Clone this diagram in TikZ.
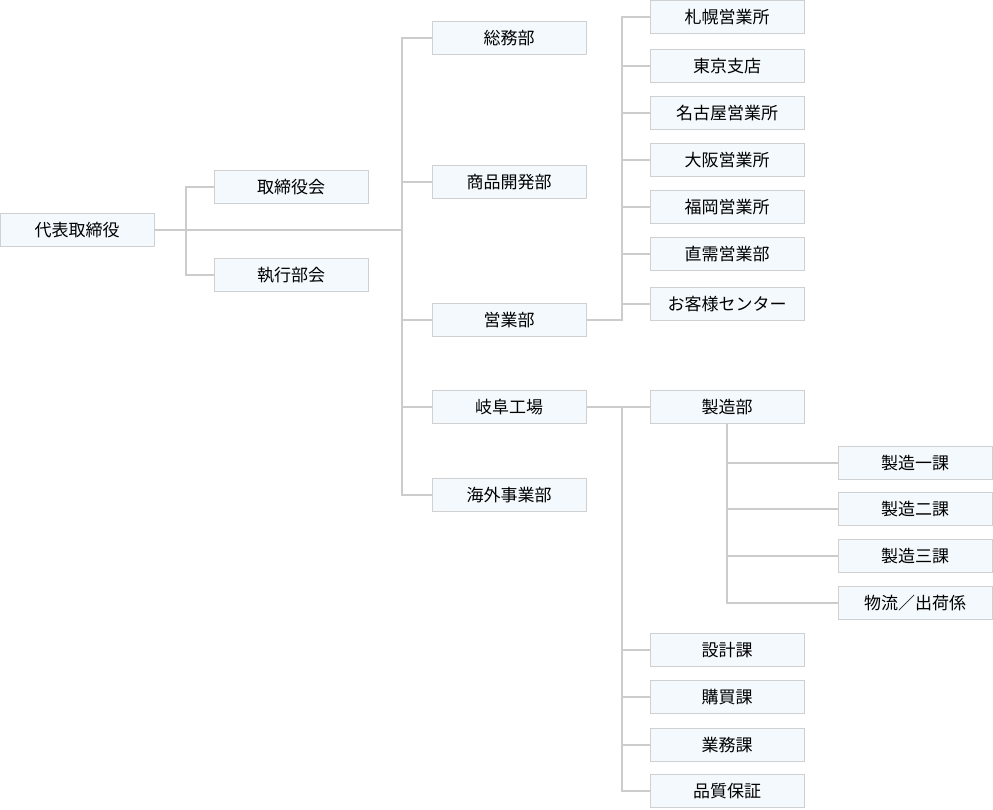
\documentclass[tikz,border=0pt]{standalone}
\usepackage{fontspec}
\newfontfamily\jpfont{Noto Sans CJK JP}
\definecolor{boxfill}{HTML}{F3F9FD}
\definecolor{boxline}{HTML}{D0D0D0}
\definecolor{wirecol}{HTML}{CCCCCC}
\begin{document}
\begin{tikzpicture}[x=1pt,y=-1pt,
                    dept/.style = {draw=boxline,fill=boxfill,line width=1pt,minimum width=154pt,minimum height=33pt,inner sep=0pt,font=\jpfont\fontsize{17}{17}\selectfont},
                    wire/.style = {draw=wirecol,line width=1.2pt}]
                        \useasboundingbox (0,0) rectangle (993,809);

                        % top and boards
                        \node[dept] (ceo) at (77,230) {代表取締役};
                        \node[dept] (board) at (291,187) {取締役会};
                        \node[dept] (exec) at (291,275) {執行部会};

                        % departments
                        \node[dept] (soumu) at (509,38) {総務部};
                        \node[dept] (shohin) at (509,182) {商品開発部};
                        \node[dept] (eigyo) at (509,320) {営業部};
                        \node[dept] (gifu) at (509,407) {岐阜工場};
                        \node[dept] (kaigai) at (509,495) {海外事業部};

                        % sales offices
                        \node[dept] (sapporo) at (727,17) {札幌営業所};
                        \node[dept] (tokyo) at (727,66) {東京支店};
                        \node[dept] (nagoya) at (727,113) {名古屋営業所};
                        \node[dept] (osaka) at (727,160) {大阪営業所};
                        \node[dept] (fukuoka) at (727,207) {福岡営業所};
                        \node[dept] (chokuju) at (727,254) {直需営業部};
                        \node[dept] (center) at (727,304) {お客様センター};

                        % factory
                        \node[dept] (seizo) at (727,407) {製造部};
                        \node[dept] (ka1) at (915,463) {製造一課};
                        \node[dept] (ka2) at (915,509) {製造二課};
                        \node[dept] (ka3) at (915,556) {製造三課};
                        \node[dept] (butsuryu) at (915,603) {物流／出荷係};
                        \node[dept] (sekkei) at (727,650) {設計課};
                        \node[dept] (kobai) at (727,697) {購買課};
                        \node[dept] (gyomu) at (727,745) {業務課};
                        \node[dept] (hinshitsu) at (727,791) {品質保証};

                        \coordinate (j1) at (186,230);
                        \coordinate (j2) at (402,230);
                        \coordinate (j3) at (622,320);
                        \coordinate (j4) at (622,407);

                        \draw[wire] (ceo.east) -- (j2);
                        \draw[wire] (board.west) -| (j1) |- (exec.west);

                        \draw[wire] (soumu.west) -| (j2) |- (kaigai.west);
                        \foreach \n in {shohin,eigyo,gifu}
                            \draw[wire] (\n.west) -- (\n.west -| j2);

                        \draw[wire] (eigyo.east) -- (j3) |- (sapporo.west);
                        \foreach \n in {tokyo,nagoya,osaka,fukuoka,chokuju,center}
                            \draw[wire] (\n.west) -- (\n.west -| j3);

                        \draw[wire] (gifu.east) -- (seizo.west);
                        \draw[wire] (j4) |- (hinshitsu.west);
                        \foreach \n in {sekkei,kobai,gyomu}
                            \draw[wire] (\n.west) -- (\n.west -| j4);

                        \draw[wire] (seizo.south) |- (butsuryu.west);
                        \foreach \n in {ka1,ka2,ka3}
                            \draw[wire] (\n.west) -- (\n.west -| seizo.south);
                    \end{tikzpicture}
\end{document}
